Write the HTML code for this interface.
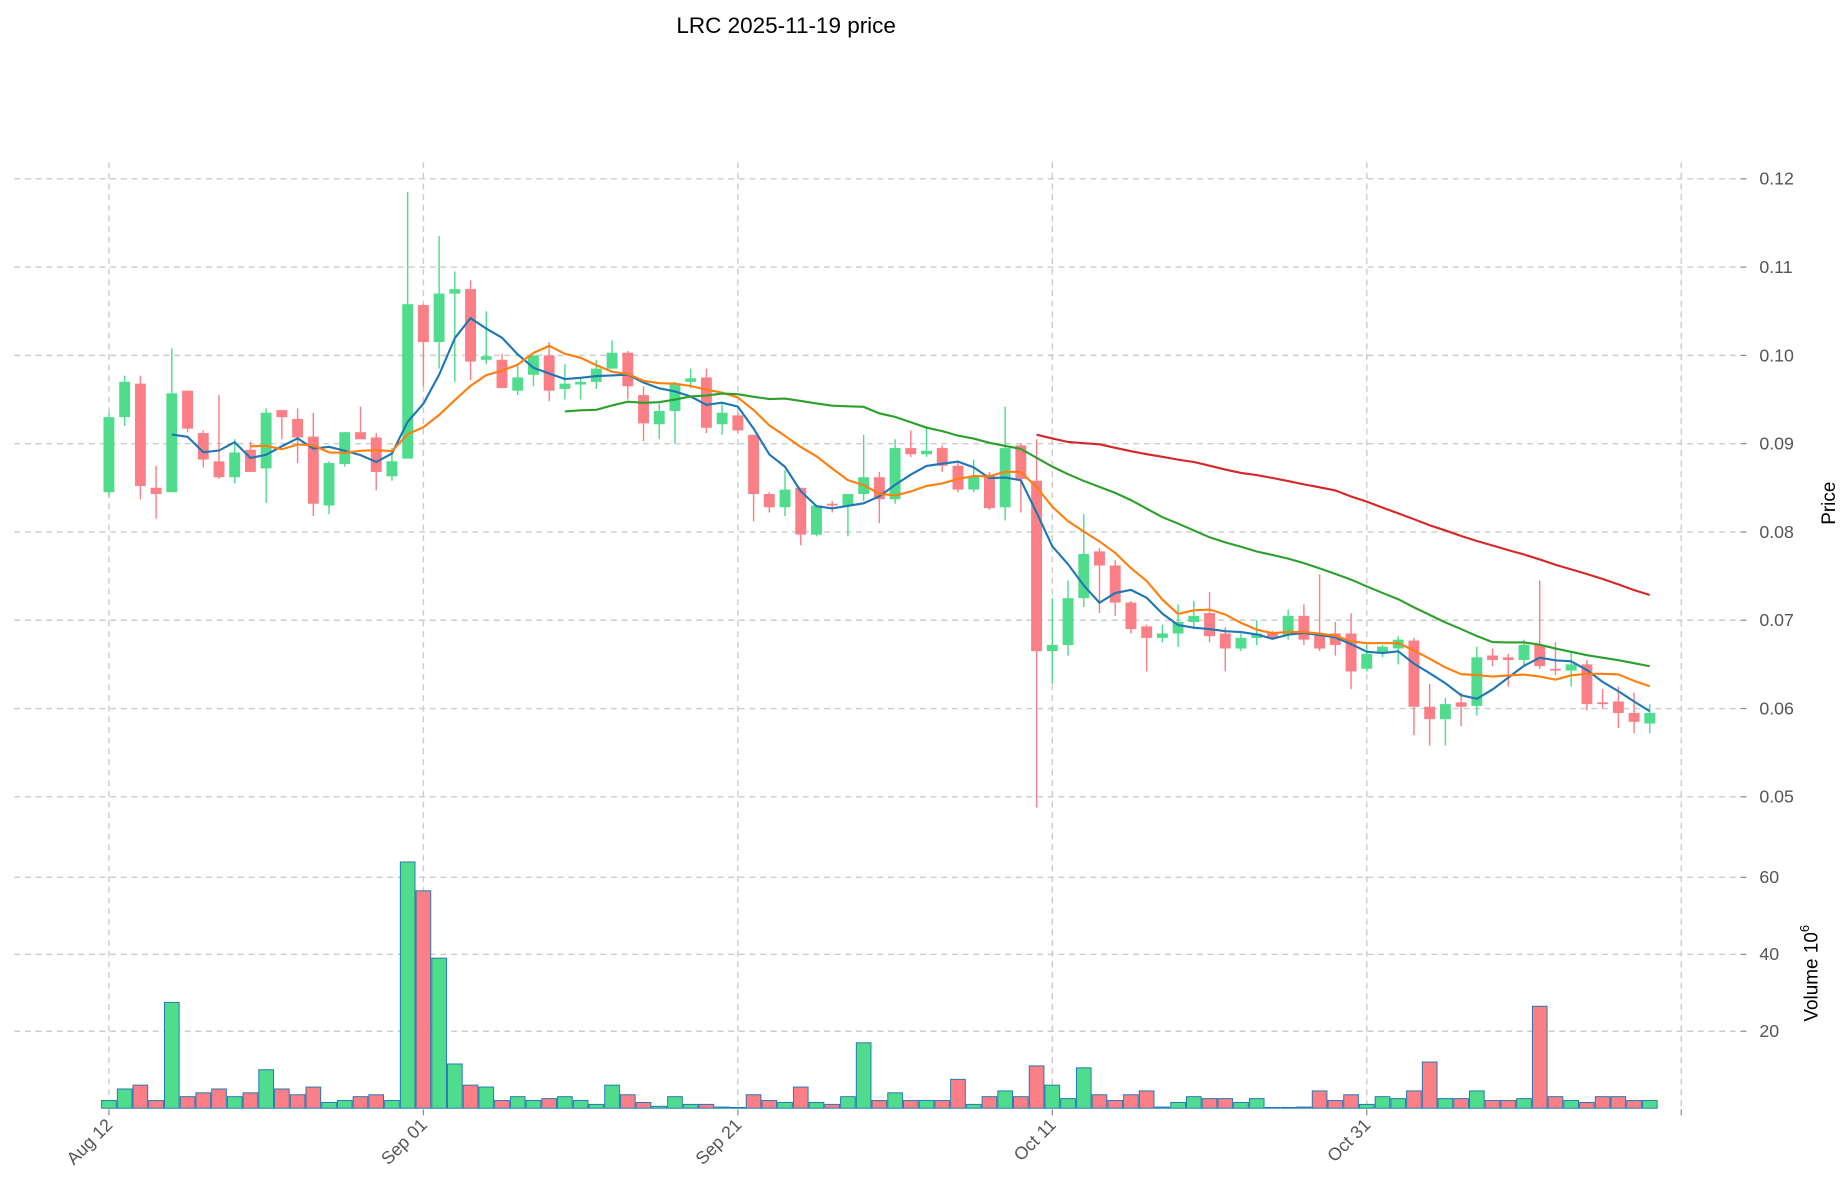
<!DOCTYPE html>
<html><head><meta charset="utf-8">
<style>
html,body{margin:0;padding:0;background:#fff;}
svg{display:block;font-family:"Liberation Sans","DejaVu Sans",sans-serif;}
</style></head>
<body>
<svg id="c" width="1847" height="1202" viewBox="0 0 1560 1015.2" xmlns="http://www.w3.org/2000/svg">
<rect width="1560" height="1016" fill="#fff"/>
<text x="664" y="28" font-size="19" text-anchor="middle" fill="#000">LRC  2025-11-19  price</text>
<g id="grid"></g>
<g id="vol"></g>
<g id="cand"></g>
<g id="ma"></g>
<g id="axes"></g>
</svg>
<script>
const D=[
[.0845,.093,.0935,.084],[.093,.097,.0977,.092],[.0968,.0852,.0977,.0837],[.085,.0843,.0875,.0815],[.0845,.0957,.1008,.0845],
[.096,.0917,.096,.0913],[.0912,.0882,.0915,.0873],[.088,.0862,.0955,.086],[.0862,.089,.0905,.0855],[.0893,.0868,.0902,.0868],
[.0872,.0935,.094,.0833],[.0938,.093,.0938,.0905],[.0928,.0907,.094,.0878],[.0908,.0832,.0935,.0818],[.083,.0878,.088,.082],
[.0877,.0913,.0913,.0874],[.0913,.0905,.0942,.0905],[.0907,.0868,.0912,.0847],[.0863,.088,.0895,.0858],[.0883,.1058,.1185,.0883],
[.1057,.1015,.1058,.0965],[.1015,.107,.1135,.0985],[.107,.1075,.1095,.097],[.1075,.0993,.1085,.0972],[.0995,.0999,.105,.099],
[.0995,.0963,.1002,.0963],[.096,.0975,.099,.0955],[.0978,.1,.1,.0965],[.1,.096,.1015,.0948],[.0962,.0968,.099,.095],
[.0967,.097,.0975,.095],[.097,.0985,.0995,.0962],[.0985,.1003,.1017,.0985],[.1003,.0965,.1005,.095],[.0955,.0923,.0965,.0903],
[.0922,.0937,.0945,.0905],[.0937,.0968,.097,.09],[.097,.0974,.0985,.0963],[.0975,.0918,.0985,.0912],[.0922,.0935,.0945,.091],
[.0932,.0915,.0935,.0912],[.091,.0843,.091,.0812],[.0843,.0828,.0845,.0822],[.0828,.0848,.087,.0818],[.085,.0797,.085,.0785],
[.0797,.083,.083,.0795],[.0832,.083,.0835,.0822],[.083,.0843,.0843,.0795],[.0843,.0862,.091,.0835],[.0862,.0837,.0868,.081],
[.0837,.0895,.0905,.0832],[.0895,.0888,.0915,.0885],[.0888,.0892,.092,.0885],[.0895,.0875,.0898,.0868],[.0875,.0848,.0878,.0845],
[.0848,.0863,.0882,.0845],[.0865,.0827,.0868,.0825],[.0828,.0895,.0942,.0813],[.0898,.086,.09,.0822],[.0858,.0665,.0905,.0488],
[.0665,.0672,.0725,.0628],[.0672,.0725,.0745,.066],[.0725,.0775,.082,.0715],[.0778,.0762,.0782,.0708],[.0762,.072,.0768,.0705],
[.072,.069,.0722,.0685],[.0693,.068,.0695,.0642],[.068,.0685,.0695,.0675],[.0685,.0698,.0718,.067],[.0698,.0705,.0722,.069],
[.0708,.0682,.0732,.0675],[.0685,.0668,.0692,.0642],[.0668,.068,.0685,.0665],[.068,.0685,.07,.0672],[.0685,.068,.0688,.0678],
[.0683,.0705,.0712,.0678],[.0705,.0678,.0718,.0672],[.0685,.0668,.0752,.0665],[.0685,.0672,.0698,.066],[.0685,.0642,.0708,.0622],
[.0645,.0662,.0672,.0642],[.0663,.067,.0672,.0658],[.0668,.0678,.0682,.065],[.0677,.0602,.068,.057],[.0602,.0588,.0628,.0558],
[.0588,.0605,.0612,.0558],[.0607,.0602,.0618,.058],[.0603,.0658,.067,.0592],[.066,.0655,.0668,.0648],[.0658,.0655,.0662,.0625],
[.0655,.0672,.0678,.0648],[.0672,.0648,.0745,.0645],[.0645,.0643,.0675,.0638],[.0643,.065,.0665,.0625],[.065,.0605,.0655,.0598],
[.0607,.0605,.0622,.06],[.0608,.0595,.0625,.0578],[.0595,.0585,.0618,.0572],[.0583,.0595,.0605,.0572]];
const V=[2,5,6,2,27.5,3,4,5,3,4,10,5,3.5,5.5,1.5,2,3,3.5,2,64,56.5,39,11.5,6,5.5,2,3,2,2.5,3,2,1,6,3.5,1.5,0.5,3,1,1,0.3,0.2,3.5,2,1.5,5.5,1.5,1,3,17,2,4,2,2,2,7.5,1,3,4.5,3,11,6,2.5,10.5,3.5,2,3.5,4.5,0.3,1.5,3,2.5,2.5,1.5,2.5,0.2,0.2,0.3,4.5,2,3.5,1,3,2.5,4.5,12,2.5,2.5,4.5,2,2,2.5,26.5,3,2,1.5,3,3,2,2];
const NS="http://www.w3.org/2000/svg";
function el(p,t,a){const e=document.createElementNS(NS,t);for(const k in a)e.setAttribute(k,a[k]);document.getElementById(p).appendChild(e);return e;}
const DX=13.28;
const X=i=>92+DX*i, Y=p=>151+(0.12-p)*7457, VY=v=>936-v*3.25;
const GC="#cccccc";
const RX=1470;
for(let k=0;k<8;k++){const p=0.12-k*0.01;const y=Y(p);el('grid','line',{x1:12,x2:RX,y1:y,y2:y,stroke:GC,'stroke-width':1.2,'stroke-dasharray':'5,4'});
 el('axes','line',{x1:RX,x2:RX+5,y1:y,y2:y,stroke:'#888'});
 const t=el('axes','text',{x:RX+16,y:y+5,'font-size':15,fill:'#555'});t.textContent=p.toFixed(2);}
[20,40,60].forEach(v=>{const y=VY(v);el('grid','line',{x1:12,x2:RX,y1:y,y2:y,stroke:GC,'stroke-width':1.2,'stroke-dasharray':'5,4'});
 el('axes','line',{x1:RX,x2:RX+5,y1:y,y2:y,stroke:'#888'});
 const t=el('axes','text',{x:RX+16,y:y+5,'font-size':15,fill:'#555'});t.textContent=v;});
const labs=['Aug 12','Sep 01','Sep 21','Oct 11','Oct 31',''];
for(let k=0;k<6;k++){const x=92+DX*20*k;el('grid','line',{x1:x,x2:x,y1:137,y2:937,stroke:GC,'stroke-width':1.2,'stroke-dasharray':'5,4'});
 el('axes','line',{x1:x,x2:x,y1:937,y2:942,stroke:'#888'});
 if(labs[k]){const t=el('axes','text',{x:x+4,y:951,'font-size':15,fill:'#555','text-anchor':'end',transform:`rotate(-45 ${x+4} 951)`});t.textContent=labs[k];}}
const t1=el('axes','text',{x:1550,y:425,'font-size':16,fill:'#000','text-anchor':'middle',transform:'rotate(-90 1550 425)'});t1.textContent='Price';
const t2=el('axes','text',{x:1535,y:822,'font-size':16,fill:'#000','text-anchor':'middle',transform:'rotate(-90 1535 822)'});t2.innerHTML='Volume  10<tspan dy="-7" font-size="11">6</tspan>';
const G="#4fdc8c",R="#fa7f86";
D.forEach((d,i)=>{const [o,c,h,l]=d;const up=c>=o;const col=up?G:R;const x=X(i);
 el('cand','line',{x1:x,x2:x,y1:Y(h),y2:Y(l),stroke:col,'stroke-width':1.2});
 const y1=Y(Math.max(o,c)),y2=Y(Math.min(o,c));
 el('cand','rect',{x:x-4.6,y:y1,width:9.2,height:Math.max(1.5,y2-y1),fill:col});
 const vy=VY(V[i]);el('vol','rect',{x:x-6.2,y:vy,width:12.4,height:936-vy,fill:col,stroke:'#1f77b4','stroke-width':0.8});
});
function ma(n,col){let pts=[];for(let i=n-1;i<D.length;i++){let s=0;for(let j=i-n+1;j<=i;j++)s+=D[j][1];pts.push(X(i).toFixed(1)+','+Y(s/n).toFixed(1));}
 el('ma','polyline',{points:pts.join(' '),fill:'none',stroke:col,'stroke-width':1.8});}
ma(5,'#1f77b4');ma(10,'#ff7f0e');ma(30,'#2ca02c');ma(60,'#d62728');
</script>
</body></html>
